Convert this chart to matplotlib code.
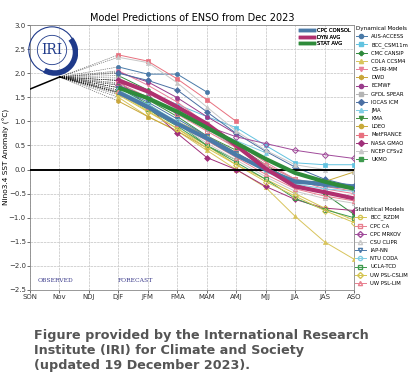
import numpy as np
import matplotlib
matplotlib.use("Agg")
import matplotlib.pyplot as plt
from matplotlib.patches import Circle, Arc
from matplotlib.lines import Line2D

# ---- data ----
seasons = ["SON", "Nov", "NDJ", "DJF", "JFM", "FMA", "MAM", "AMJ", "MJJ", "JJA", "JAS", "ASO"]
observed = [1.67, 1.92]          # SON, Nov

dyn_names = ["AUS-ACCESS", "BCC_CSM11m", "CMC CANSIP", "COLA CCSM4", "CS-IRI-MM", "DWD",
             "ECMWF", "GFDL SPEAR", "IOCAS ICM", "JMA", "KMA", "LDEO", "MetFRANCE",
             "NASA GMAO", "NCEP CFSv2", "UKMO"]
dyn_values = [
    [2.13, 1.98, 1.98, 1.61],
    [1.85, 1.60, 1.35, 1.10, 0.87, 0.50, 0.14, 0.10, 0.10],
    [1.95, 1.65, 1.30, 0.90, 0.50, 0.10, -0.30, -0.50, -0.93],
    [1.50, 1.10, 0.80, 0.40, 0.00, -0.37, -0.97, -1.50, -1.86],
    [2.05, 1.75, 1.40, 0.95, 0.55, 0.15, -0.20, -0.40, -0.50],
    [1.42, 1.10, 0.80, 0.45],
    [2.02, 1.82, 1.49, 1.10, 0.74],
    [1.90, 1.60, 1.25, 0.85, 0.45, 0.10, -0.20, -0.30, -0.35],
    [2.00, 1.85, 1.65, 1.20, 0.75, 0.38, 0.05, -0.20, -0.35],
    [1.78, 1.50, 1.15, 0.85, 0.60, 0.35],
    [1.75, 1.45, 1.10, 0.70, 0.40],
    [1.65, 1.30, 1.00, 0.70, 0.35, 0.00, -0.25, -0.25, -0.05],
    [2.38, 2.25, 1.88, 1.45, 1.00],
    [1.85, 1.30, 0.75, 0.25, 0.00, -0.35, -0.62, -0.80, -0.85],
    [2.33, 2.22, 1.80, 1.30, 0.80, 0.40, 0.10, 0.00, -0.05],
    [1.70, 1.36, 0.97, 0.50, 0.20],
]
dyn_colors = ["#4a7aa8", "#62c3e0", "#2f8a3c", "#d8c45c", "#e8809a", "#c9a63a",
              "#9a3c8c", "#b4b4b4", "#4b6fa3", "#7fcde3", "#3f8f3f", "#c8aa3a",
              "#e8707f", "#a0307a", "#c8c8c8", "#3e9a4e"]
dyn_markers = ["o", "s", "P", "^", "v", "h", "o", "s", "D", "^", "v", "o", "s", "D", "^", "s"]

stat_names = ["BCC_RZDM", "CPC CA", "CPC MRKOV", "CSU CLIPR", "IAP-NN", "NTU CODA",
              "UCLA-TCD", "UW PSL-CSLIM", "UW PSL-LIM"]
stat_values = [
    [1.55, 1.20, 0.85, 0.50, 0.10, -0.20, -0.50, -0.80, -1.05],
    [1.80, 1.50, 1.15, 0.80, 0.45, 0.10, -0.20, -0.35, -0.45],
    [1.75, 1.50, 1.20, 0.90, 0.68, 0.54, 0.40, 0.31, 0.23],
    [1.60, 1.30, 0.95, 0.55, 0.20, -0.15, -0.45, -0.60, -0.70],
    [1.70, 1.40, 1.05, 0.70, 0.35, 0.00, -0.25, -0.35, -0.40],
    [1.65, 1.35, 1.00, 0.65, 0.30, -0.05, -0.30, -0.40, -0.45],
    [1.60, 1.25, 0.90, 0.50, 0.15, -0.20, -0.60, -0.83, -1.00],
    [1.58, 1.22, 0.85, 0.45, 0.10, -0.25, -0.55, -0.85, -1.10],
    [1.62, 1.30, 0.95, 0.60, 0.25, -0.10, -0.40, -0.55, -0.65],
]
stat_colors = ["#d4c450", "#e8808f", "#a04a9a", "#c8c8c8", "#4b78a8", "#7fcde3",
               "#3e9a4e", "#d4c450", "#e8808f"]
stat_markers = ["o", "s", "D", "^", "v", "o", "s", "D", "^"]

avg_names = ["CPC CONSOL", "DYN AVG", "STAT AVG"]
avg_values = [
    [1.60, 1.30, 0.95, 0.65, 0.30, 0.00, -0.25, -0.30, -0.35],
    [1.85, 1.62, 1.30, 0.95, 0.50, 0.02, -0.35, -0.47, -0.60],
    [1.70, 1.48, 1.20, 0.87, 0.55, 0.22, -0.07, -0.25, -0.40],
]
avg_colors = ["#4a7aa8", "#b0306f", "#2e8b3a"]

# ---- figure ----
W, H = 410, 385
fig = plt.figure(figsize=(W / 100, H / 100), dpi=100)
ax = fig.add_axes([30 / W, 1 - 290 / H, 324 / W, 265 / H])

x = np.arange(len(seasons))
fx0 = 3  # first forecast season (DJF)

ax.plot(x[:2], observed, color="black", lw=1.1, zorder=3)

all_first = [v[0] for v in dyn_values] + [v[0] for v in stat_values] + [v[0] for v in avg_values]
for v0 in all_first:
    ax.plot([1, fx0], [observed[1], v0], color="black", lw=0.45, ls=(0, (2, 1.5)), alpha=0.6, zorder=2)

for name, vals, c, m in zip(dyn_names, dyn_values, dyn_colors, dyn_markers):
    ax.plot(x[fx0:fx0 + len(vals)], vals, color=c, marker=m, ms=3, lw=0.7, mew=0.5, zorder=4)

for name, vals, c, m in zip(stat_names, stat_values, stat_colors, stat_markers):
    ax.plot(x[fx0:fx0 + len(vals)], vals, color=c, marker=m, ms=3, lw=0.7, mew=0.7,
            mfc="none", zorder=4)

for name, vals, c in zip(avg_names, avg_values, avg_colors):
    ax.plot(x[fx0:fx0 + len(vals)], vals, color=c, lw=3.0, zorder=6, solid_capstyle="butt")

ax.axhline(0, color="black", lw=1.4, zorder=5)

ax.set_xlim(0, 11)
ax.set_ylim(-2.5, 3.0)
ax.set_xticks(x)
ax.set_xticklabels(seasons)
yt = np.arange(-2.5, 3.01, 0.5)
ax.set_yticks(yt)
ax.set_yticklabels([f"{t:.1f}".replace("-", "\u2212") for t in yt])
ax.tick_params(labelsize=5, length=2, width=0.5, colors="#333333", pad=1)
ax.grid(True, color="#cccccc", lw=0.6, ls=(0, (3, 1)))
for s in ax.spines.values():
    s.set_color("#888888")
    s.set_linewidth(0.6)

ax.set_title("Model Predictions of ENSO from Dec 2023", fontsize=7, pad=3)
fig.text(6 / W, 1 - 157 / H, "Nino3.4 SST Anomaly (\u00b0C)", fontsize=5.3, rotation=90,
         ha="center", va="center")

ax.text(0.27, -2.33, "OBSERVED", family="DejaVu Serif", fontsize=4.3, color="#3c3c8c")
ax.text(2.98, -2.33, "FORECAST", family="DejaVu Serif", fontsize=4.3, color="#3c3c8c")

# averages legend (inside)
avg_handles = [Line2D([], [], color=c, lw=2.5) for c in avg_colors]
leg0 = ax.legend(avg_handles, avg_names, loc="upper right", fontsize=3.8, frameon=False,
                 handlelength=2.6, labelspacing=0.3, borderaxespad=0.2, handletextpad=0.6)
ax.add_artist(leg0)

# dynamical legend
dyn_handles = [Line2D([], [], color=c, marker=m, ms=3, lw=0.7) for c, m in zip(dyn_colors, dyn_markers)]
leg1 = fig.legend(dyn_handles, dyn_names, loc="upper left", bbox_to_anchor=(355 / W, 1 - 25 / H),
                  fontsize=3.8, title="Dynamical Models", title_fontsize=4.1, frameon=False,
                  handlelength=2.2, labelspacing=0.6, borderaxespad=0, handletextpad=0.8,
                  borderpad=0.1)
leg1._legend_box.align = "left"

stat_handles = [Line2D([], [], color=c, marker=m, ms=3, lw=0.7, mfc="none") for c, m in zip(stat_colors, stat_markers)]
leg2 = fig.legend(stat_handles, stat_names, loc="upper left", bbox_to_anchor=(354 / W, 1 - 206 / H),
                  fontsize=3.8, title="Statistical Models", title_fontsize=4.1, frameon=False,
                  handlelength=2.2, labelspacing=0.6, borderaxespad=0, handletextpad=0.8,
                  borderpad=0.1)
leg2._legend_box.align = "left"

# IRI logo
lax = fig.add_axes([26 / W, 1 - 76 / H, 52 / W, 52 / H])
lax.set_xlim(-1.1, 1.1)
lax.set_ylim(-1.1, 1.1)
lax.set_aspect("equal")
lax.axis("off")
navy = "#1f3a8a"
lax.add_patch(Circle((0, 0), 0.98, fill=False, ec=navy, lw=0.8))
lax.add_patch(Circle((0, 0), 0.62, fill=False, ec=navy, lw=0.6))
lax.add_patch(Arc((0.12, -0.1), 1.75, 1.75, theta1=-120, theta2=40, color=navy, lw=4))
lax.text(0, 0, "IRI", family="DejaVu Serif", fontsize=10, color=navy, ha="center", va="center")

# caption
fig.text(34 / W, 1 - 329 / H,
         "Figure provided by the International Research\nInstitute (IRI) for Climate and Society\n(updated 19 December 2023).",
         fontsize=9.2, fontweight="bold", color="#555555", va="top", ha="left", linespacing=1.2)

fig.savefig("out.png", dpi=100)
